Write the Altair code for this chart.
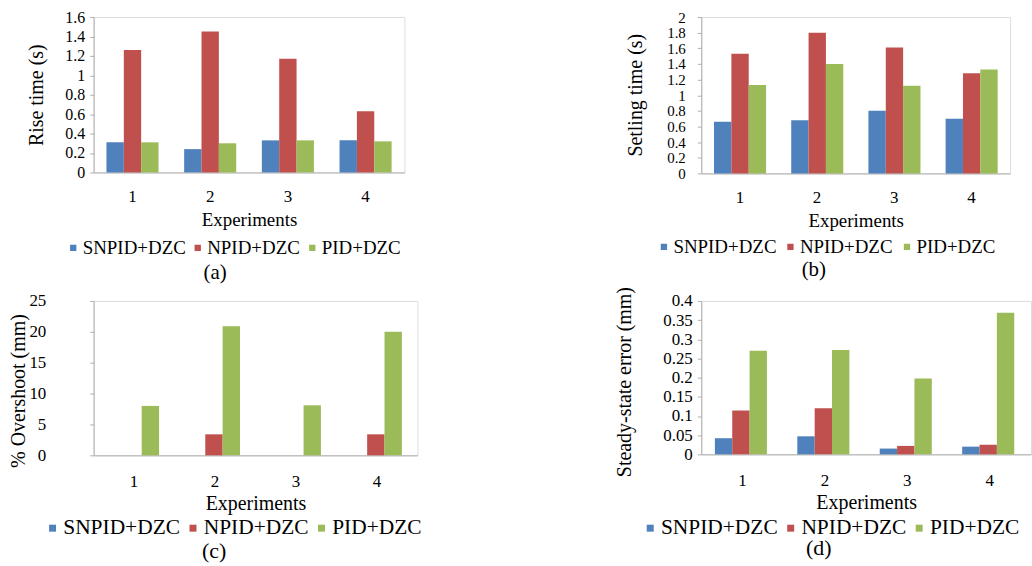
import altair as alt
import pandas as pd

experiments = ["1", "2", "3", "4"]
controllers = ["SNPID+DZC", "NPID+DZC", "PID+DZC"]
colors = ["#4F81BD", "#C0504D", "#9BBB59"]

# (a) Rise time (s)
rise_snpid = [0.31, 0.24, 0.33, 0.33]
rise_npid = [1.26, 1.45, 1.17, 0.63]
rise_pid = [0.31, 0.30, 0.33, 0.32]
rise_ticks = [0, 0.2, 0.4, 0.6, 0.8, 1, 1.2, 1.4, 1.6]

# (b) Settling time (s)
settle_snpid = [0.66, 0.68, 0.80, 0.70]
settle_npid = [1.53, 1.80, 1.61, 1.28]
settle_pid = [1.13, 1.40, 1.12, 1.33]
settle_ticks = [0, 0.2, 0.4, 0.6, 0.8, 1, 1.2, 1.4, 1.6, 1.8, 2]

# (c) % Overshoot
over_snpid = [0, 0, 0, 0]
over_npid = [0, 3.4, 0, 3.4]
over_pid = [8.0, 20.9, 8.1, 20.0]
over_ticks = [0, 5, 10, 15, 20, 25]

# (d) Steady-state error (mm)
sse_snpid = [0.042, 0.047, 0.015, 0.020]
sse_npid = [0.114, 0.120, 0.022, 0.025]
sse_pid = [0.270, 0.272, 0.198, 0.369]
sse_ticks = [0, 0.05, 0.1, 0.15, 0.2, 0.25, 0.3, 0.35, 0.4]

FONT = "Liberation Serif"
AXIS_GRAY = "#B0B0B0"


def panel(series, ytitle, ticks, w, h, caption, cap_dx, cap_off, cap_fs,
          leg_x, leg_y, leg_fs, leg_cpad, sym,
          title_x, title_y, title_fs, lab_pad, tick_fs,
          xlab_pad, xtitle_pad, xtitle_fs):
    rows = []
    for ci, c in enumerate(controllers):
        for ei, e in enumerate(experiments):
            rows.append({"Experiment": e, "Controller": c, "Value": series[ci][ei]})
    df = pd.DataFrame(rows)
    return alt.Chart(df).mark_bar().encode(
        x=alt.X("Experiment:N", sort=experiments,
                scale=alt.Scale(paddingInner=0.33, paddingOuter=0.165),
                axis=alt.Axis(title="Experiments", labelAngle=0, ticks=False,
                              domainColor=AXIS_GRAY, labelFont=FONT, labelFontSize=17,
                              labelColor="black", labelPadding=xlab_pad, titleFont=FONT,
                              titleFontSize=xtitle_fs, titleFontWeight="normal",
                              titleColor="black", titlePadding=xtitle_pad)),
        xOffset=alt.XOffset("Controller:N", sort=controllers,
                            scale=alt.Scale(paddingInner=0, paddingOuter=0)),
        y=alt.Y("Value:Q",
                scale=alt.Scale(domain=[ticks[0], ticks[-1]], nice=False),
                axis=alt.Axis(title=ytitle, values=ticks, format="~g", grid=False,
                              labelOverlap=False, labelFlush=False,
                              domainColor=AXIS_GRAY, tickColor=AXIS_GRAY, tickSize=4,
                              labelFont=FONT, labelFontSize=tick_fs, labelColor="black",
                              labelPadding=lab_pad, titleFont=FONT, titleFontSize=title_fs,
                              titleFontWeight="normal", titleColor="black",
                              titleX=title_x, titleY=title_y, titleBaseline="middle")),
        color=alt.Color("Controller:N", sort=controllers,
                        scale=alt.Scale(domain=controllers, range=colors),
                        legend=alt.Legend(title=None, orient="none", direction="horizontal",
                                          gridAlign="each",
                                          legendX=leg_x, legendY=leg_y, symbolType="square",
                                          symbolSize=sym, symbolStrokeWidth=0,
                                          labelFont=FONT, labelFontSize=leg_fs,
                                          labelColor="black", labelOffset=0,
                                          columnPadding=leg_cpad, padding=0)),
    ).properties(
        width=w, height=h,
        title=alt.TitleParams(text=caption, orient="bottom", anchor="middle", dx=cap_dx,
                              offset=cap_off, font=FONT, fontSize=cap_fs,
                              fontWeight="normal", color="black"),
    )


pa = panel([rise_snpid, rise_npid, rise_pid], "Rise  time (s)", rise_ticks, 312, 156,
           "(a)", -34, 3.5, 21,
           -30, 222, 19, 2, 40,
           -57, 78, 20, 5, 16,
           16, 6.5, 19)
pb = panel([settle_snpid, settle_npid, settle_pid], "Setling  time (s)", settle_ticks, 310, 157,
           "(b)", -42, 1.5, 21,
           -47, 221, 19, 4, 40,
           -66, 78, 20, 12, 15,
           16, 6.5, 19)
pc = panel([over_snpid, over_npid, over_pid], "% Overshoot (mm)", over_ticks, 325, 155,
           "(c)", -41.5, 2.5, 22,
           -52, 217, 21.5, 2, 49,
           -75, 90, 20, 44, 17,
           18, 4, 20)
pd_ = panel([sse_snpid, sse_npid, sse_pid], "Steady-state error (mm)", sse_ticks, 331, 154,
            "(d)", -47.5, -0.5, 22,
            -62, 217, 21.5, 2, 49,
            -77, 81, 20, 5, 17,
            18, 4, 20)

chart = alt.concat(pa, pb, pc, pd_, columns=2,
                   spacing={"row": 2, "column": 191}).resolve_scale(
    color="independent").configure_view(stroke=None).configure(
    padding={"left": 8, "top": 7, "right": 0, "bottom": 0}, background="white")

chart.save("out.html", embed_options={"renderer": "svg", "actions": False})
